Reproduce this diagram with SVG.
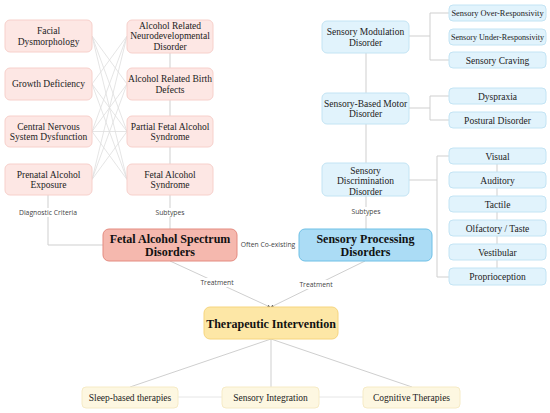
<svg xmlns="http://www.w3.org/2000/svg" width="550" height="413" viewBox="0 0 550 413">
<style>
.t{font-family:"Liberation Serif","Times New Roman",serif;fill:#222;text-anchor:middle}
.s{font-size:9.5px}
.b{font-size:12px;font-weight:bold;fill:#111}
.lbl{font-family:"Open Sans","DejaVu Sans",sans-serif;font-size:6.8px;fill:#444;text-anchor:middle}
.pk{fill:#fde7e4;stroke:#f7d0cb;stroke-width:1}
.bl{fill:#e1f3fc;stroke:#c3e4f4;stroke-width:1}
.yl{fill:#fdf7e1;stroke:#f6ebc6;stroke-width:1}
.c{fill:none;stroke:#cfcfcf;stroke-width:1}
.x{fill:none;stroke:#dedede;stroke-width:0.8}
.h{fill:none;stroke:#e6e6e6;stroke-width:1}
</style>
<defs>
<marker id="ah" markerWidth="3" markerHeight="3" refX="2.5" refY="1.5" orient="auto" markerUnits="userSpaceOnUse">
<path d="M0,0 L3,1.5 L0,3 Z" fill="#666"/>
</marker>
</defs>
<rect width="550" height="413" fill="#fff"/>
<g id="connectors">
<path class="x" d="M92,36 L127,84 M92,36 L127,131.5 M92,36 L127,179.5 M92,84 L127,36 M92,84 L127,131.5 M92,84 L127,179.5 M92,131.5 L127,36 M92,131.5 L127,84 M92,131.5 L127,131.5 M92,131.5 L127,179.5 M92,179.5 L127,36 M92,179.5 L127,84 M92,179.5 L127,131.5"/>
<path class="c" d="M170,53 L170,229"/>
<path class="c" d="M48,195 L48,245 L103,245"/>
<path class="c" d="M366,53 L366,229"/>
<path class="c" d="M409,36 L430,36 M430,13 L430,60 M430,13 L449,13 M430,60 L449,60"/>
<path class="c" d="M409,108 L430,108 M430,96 L430,120 M430,96 L449,96 M430,120 L449,120"/>
<path class="c" d="M409,180 L437,180 M437,156 L437,277 M437,156 L449,156 M437,277 L449,277"/>
<path class="c" d="M497,156 L497,277"/>
<path class="c" d="M170,261 L270,307" marker-end="url(#ah)"/>
<path class="c" d="M365,261 L271,307" marker-end="url(#ah)"/>
<path class="c" d="M271,339 L130,387 M271,339 L271,387 M271,339 L412,387"/>
<path class="h" d="M178,397 L222,397 M319,397 L363,397"/>
<rect x="18" y="208" width="60" height="9" fill="#fff"/>
<text class="lbl" x="48" y="215">Diagnostic Criteria</text>
<rect x="155" y="208" width="30" height="9" fill="#fff"/>
<text class="lbl" x="170" y="215">Subtypes</text>
<rect x="351" y="207" width="30" height="9" fill="#fff"/>
<text class="lbl" x="366" y="214">Subtypes</text>
<text class="lbl" x="268" y="247">Often Co-existing</text>
<rect x="200" y="278" width="34" height="9" fill="#fff"/>
<text class="lbl" x="217" y="285">Treatment</text>
<rect x="299" y="280" width="34" height="9" fill="#fff"/>
<text class="lbl" x="316" y="287">Treatment</text>
</g>
<g id="facial"><rect class="pk" x="5" y="20" width="87" height="32" rx="5"/><text class="t s" x="48.5" y="34">Facial</text><text class="t s" x="48.5" y="44.5">Dysmorphology</text></g>
<g id="growth"><rect class="pk" x="5" y="68" width="87" height="32" rx="5"/><text class="t s" x="48.5" y="87.3">Growth Deficiency</text></g>
<g id="cns"><rect class="pk" x="5" y="116" width="87" height="31" rx="5"/><text class="t s" x="48.5" y="129.5">Central Nervous</text><text class="t s" x="48.5" y="140">System Dysfunction</text></g>
<g id="prenatal"><rect class="pk" x="5" y="164" width="87" height="31" rx="5"/><text class="t s" x="48.5" y="177.5">Prenatal Alcohol</text><text class="t s" x="48.5" y="188">Exposure</text></g>
<g id="arnd"><rect class="pk" x="127" y="20" width="86" height="33" rx="5"/><text class="t s" x="170" y="29">Alcohol Related</text><text class="t s" x="170" y="39">Neurodevelopmental</text><text class="t s" x="170" y="49.5">Disorder</text></g>
<g id="arbd"><rect class="pk" x="127" y="68" width="86" height="32" rx="5"/><text class="t s" x="170" y="82">Alcohol Related Birth</text><text class="t s" x="170" y="92.5">Defects</text></g>
<g id="pfas"><rect class="pk" x="127" y="116" width="86" height="31" rx="5"/><text class="t s" x="170" y="129.5">Partial Fetal Alcohol</text><text class="t s" x="170" y="140">Syndrome</text></g>
<g id="fas"><rect class="pk" x="127" y="164" width="86" height="31" rx="5"/><text class="t s" x="170" y="177.5">Fetal Alcohol</text><text class="t s" x="170" y="188">Syndrome</text></g>
<g id="fasd"><rect x="103" y="229" width="134" height="32" rx="6" fill="#f5b8ae" stroke="#e48b80"/><text class="t b" x="170" y="242.5">Fetal Alcohol Spectrum</text><text class="t b" x="170" y="255.5">Disorders</text></g>
<g id="spd"><rect x="299" y="229" width="133" height="32" rx="6" fill="#abdcf5" stroke="#6fc0e6"/><text class="t b" x="365.5" y="242.5">Sensory Processing</text><text class="t b" x="365.5" y="255.5">Disorders</text></g>
<g id="modulation"><rect class="bl" x="322" y="21" width="87" height="32" rx="5"/><text class="t s" x="365.5" y="35">Sensory Modulation</text><text class="t s" x="365.5" y="45.5">Disorder</text></g>
<g id="motor"><rect class="bl" x="322" y="93" width="87" height="31" rx="5"/><text class="t s" x="365.5" y="106.5">Sensory-Based Motor</text><text class="t s" x="365.5" y="117">Disorder</text></g>
<g id="discrimination"><rect class="bl" x="322" y="163" width="87" height="33" rx="5"/><text class="t s" x="365.5" y="173.5">Sensory</text><text class="t s" x="365.5" y="184">Discrimination</text><text class="t s" x="365.5" y="194.5">Disorder</text></g>
<g id="over"><rect class="bl" x="449" y="5" width="97" height="16" rx="4"/><text class="t" style="font-size:8.4px" x="497.5" y="16">Sensory Over-Responsivity</text></g>
<g id="under"><rect class="bl" x="449" y="29" width="97" height="16" rx="4"/><text class="t" style="font-size:8.1px" x="497.5" y="40">Sensory Under-Responsivity</text></g>
<g id="craving"><rect class="bl" x="449" y="52" width="97" height="16" rx="4"/><text class="t s" x="497.5" y="63.5">Sensory Craving</text></g>
<g id="dyspraxia"><rect class="bl" x="449" y="88" width="97" height="16" rx="4"/><text class="t s" x="497.5" y="99.5">Dyspraxia</text></g>
<g id="postural"><rect class="bl" x="449" y="112" width="97" height="16" rx="4"/><text class="t s" x="497.5" y="123.5">Postural Disorder</text></g>
<g id="visual"><rect class="bl" x="449" y="148" width="97" height="16" rx="4"/><text class="t s" x="497.5" y="159.5">Visual</text></g>
<g id="auditory"><rect class="bl" x="449" y="172" width="97" height="16" rx="4"/><text class="t s" x="497.5" y="183.5">Auditory</text></g>
<g id="tactile"><rect class="bl" x="449" y="196" width="97" height="16" rx="4"/><text class="t s" x="497.5" y="207.5">Tactile</text></g>
<g id="olfactory"><rect class="bl" x="449" y="220" width="97" height="16" rx="4"/><text class="t s" x="497.5" y="231.5">Olfactory / Taste</text></g>
<g id="vestibular"><rect class="bl" x="449" y="244" width="97" height="16" rx="4"/><text class="t s" x="497.5" y="255.5">Vestibular</text></g>
<g id="proprioception"><rect class="bl" x="449" y="268" width="97" height="17" rx="4"/><text class="t s" x="497.5" y="280">Proprioception</text></g>
<g id="therapeutic"><rect x="204" y="307" width="134" height="32" rx="6" fill="#fde7a6" stroke="#f6d57f"/><text class="t b" x="271" y="327.5">Therapeutic Intervention</text></g>
<g id="sleep"><rect class="yl" x="82" y="387" width="96" height="21" rx="4"/><text class="t s" x="130" y="400.5">Sleep-based therapies</text></g>
<g id="integration"><rect class="yl" x="222" y="387" width="97" height="21" rx="4"/><text class="t s" x="270.5" y="400.5">Sensory Integration</text></g>
<g id="cognitive"><rect class="yl" x="363" y="387" width="97" height="21" rx="4"/><text class="t s" x="411.5" y="400.5">Cognitive Therapies</text></g>
</svg>
